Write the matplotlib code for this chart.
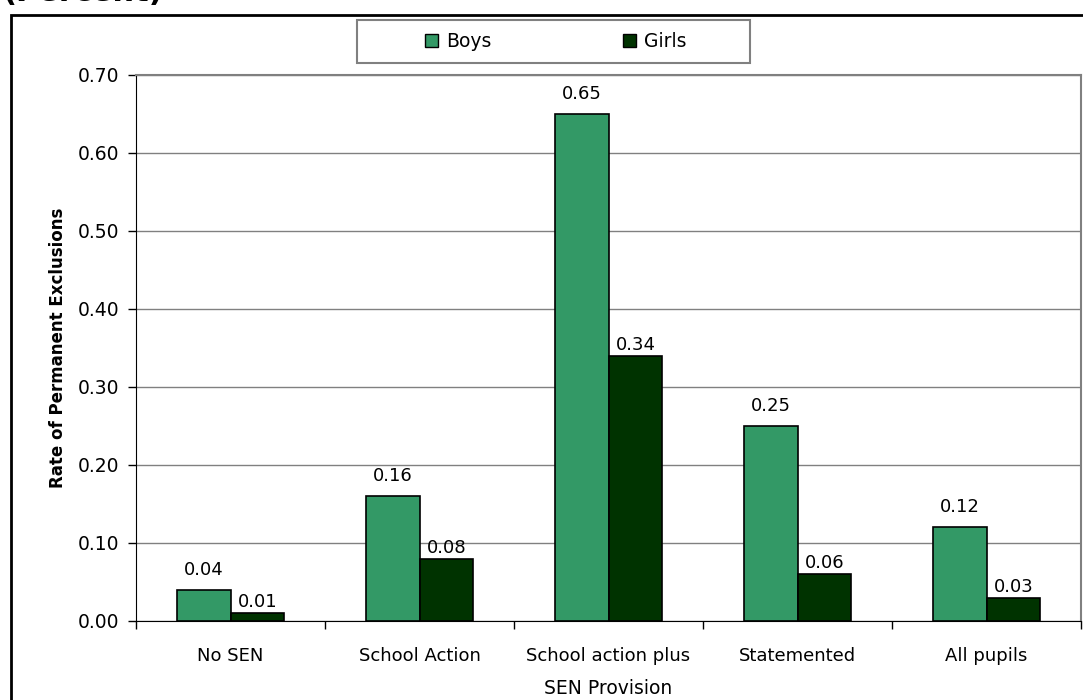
import matplotlib
matplotlib.use("Agg")
import matplotlib.pyplot as plt
from matplotlib.patches import Rectangle, Patch
import numpy as np

categories = ["No SEN", "School Action", "School action plus", "Statemented", "All pupils"]
boys = [0.04, 0.16, 0.65, 0.25, 0.12]
girls = [0.01, 0.08, 0.34, 0.06, 0.03]
series_names = ["Boys", "Girls"]
y_ticks = [0.0, 0.1, 0.2, 0.3, 0.4, 0.5, 0.6, 0.7]

boys_color = "#339966"
girls_color = "#003300"

plt.rcParams['font.family'] = ['DejaVu Sans']

W, H = 1083, 700
fig = plt.figure(figsize=(W/100, H/100), dpi=100)
fig.patch.set_facecolor("white")

ax = fig.add_axes([136/W, 1-621/H, (1081-136)/W, (621-75)/H])

x = np.arange(len(categories))
bw = 0.285
ax.bar(x - bw/2, boys, bw, color=boys_color, edgecolor="black", linewidth=1.2, zorder=3)
ax.bar(x + bw/2, girls, bw, color=girls_color, edgecolor="black", linewidth=1.2, zorder=3)

for xi, v in zip(x - bw/2, boys):
    ax.annotate(f"{v:.2f}", (xi, v), xytext=(0, 8), textcoords="offset points",
                ha="center", va="bottom", fontsize=13)
for xi, v in zip(x + bw/2, girls):
    ax.annotate(f"{v:.2f}", (xi, v), xytext=(0, 1.5), textcoords="offset points",
                ha="center", va="bottom", fontsize=13)

ax.set_xlim(-0.5, len(categories) - 0.5)
ax.set_ylim(0, 0.7)
ax.set_yticks(y_ticks)
ax.set_yticklabels([f"{t:.2f}" for t in y_ticks], fontsize=13.5)
ax.yaxis.grid(True, color="#808080", linewidth=1)
ax.set_axisbelow(True)

ax.set_xticks(x)
ax.set_xticklabels(categories, fontsize=13)
ax.set_xticks(np.arange(-0.5, len(categories)), minor=True)
ax.tick_params(axis="x", which="major", length=0, pad=19)
ax.tick_params(axis="x", which="minor", length=6, width=1, direction="out")
ax.tick_params(axis="y", length=6, width=1, direction="out", pad=6)

for s in ["top", "right"]:
    ax.spines[s].set_color("#808080")
    ax.spines[s].set_linewidth(1.5)
ax.spines["left"].set_color("black")
ax.spines["bottom"].set_color("black")

ax.set_xlabel("SEN Provision", fontsize=13.5, labelpad=10)
ax.set_ylabel("Rate of Permanent Exclusions", fontsize=12, fontweight="bold", labelpad=8)

# outer chart frame (partially off-canvas)
fig.add_artist(Rectangle((11/W, -0.1), 1.2, 1 - 15/H + 0.1, transform=fig.transFigure,
                         fill=False, edgecolor="black", linewidth=2, clip_on=False))

# cropped title fragment at top
fig.text(2/W, 1 + 8/H, "(Percent)", fontsize=22, fontweight="bold", va="center", ha="left")

# legend
fig.add_artist(Rectangle((357/W, 1 - 63/H), (750-357)/W, (63-20)/H, transform=fig.transFigure,
                         fill=True, facecolor="white", edgecolor="#808080", linewidth=1.5))
handles = [Patch(facecolor=boys_color, edgecolor="black", linewidth=1),
           Patch(facecolor=girls_color, edgecolor="black", linewidth=1)]
fig.legend(handles, series_names, loc="center", bbox_to_anchor=(556/W, 1 - 41.5/H),
           bbox_transform=fig.transFigure, ncol=2, frameon=False, fontsize=13.5,
           handlelength=0.7, handleheight=0.7, handletextpad=0.43, columnspacing=7.0)

fig.savefig("out.png", dpi=100)
